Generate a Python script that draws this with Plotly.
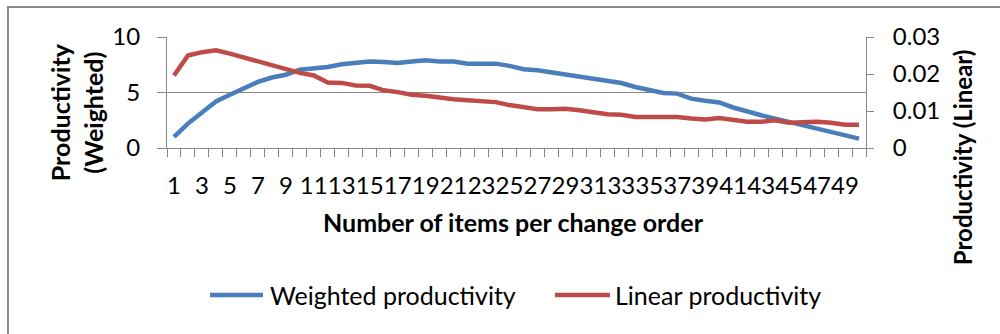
import plotly.graph_objects as go

# Number of items per change order (category axis)
items = list(range(1, 51))

# Weighted productivity (left axis)
weighted = [1.0, 2.2, 3.2, 4.2, 4.8, 5.35, 5.95, 6.35, 6.6, 7.05,
            7.15, 7.3, 7.55, 7.65, 7.8, 7.75, 7.65, 7.8, 7.9, 7.8,
            7.8, 7.6, 7.6, 7.6, 7.4, 7.1, 7.0, 6.8, 6.55, 6.4,
            6.25, 5.95, 5.85, 5.5, 5.25, 4.95, 4.9, 4.45, 4.25, 4.1,
            3.65, 3.25, 2.95, 2.65, 2.35, 2.05, 1.7, 1.4, 1.15, 0.85]

# Linear productivity (right axis)
linear = [0.0196, 0.0250, 0.0259, 0.0264, 0.0255, 0.0244, 0.0234, 0.0225, 0.0214, 0.0203,
          0.0196, 0.0177, 0.0176, 0.0169, 0.0168, 0.0156, 0.0151, 0.0144, 0.0141, 0.0135,
          0.0132, 0.0129, 0.0126, 0.0124, 0.0116, 0.0109, 0.0105, 0.0105, 0.0106, 0.0102,
          0.0095, 0.0091, 0.0090, 0.0084, 0.0084, 0.0084, 0.0084, 0.0080, 0.0077, 0.0081,
          0.0075, 0.0071, 0.0071, 0.0075, 0.0068, 0.0070, 0.0071, 0.0068, 0.0063, 0.0063]

series_names = ["Weighted productivity", "Linear productivity"]
x_tick_labels = [str(v) for v in items[::2]]

FONT = "Lato"
GREY = "#868686"
BLUE = "#4A7EBB"
RED = "#BE4B48"

fig = go.Figure()
fig.add_trace(go.Scatter(x=items, y=weighted, mode="lines", name=series_names[0],
                         line=dict(color=BLUE, width=4.5), yaxis="y"))
fig.add_trace(go.Scatter(x=items, y=linear, mode="lines", name=series_names[1],
                         line=dict(color=RED, width=4.5), yaxis="y2"))

boundaries = [v - 0.5 for v in items] + [items[-1] + 0.5]

# Legend drawn below the plot: a line sample followed by its label
legend_shapes = []
legend_notes = []
for (lx0, lx1, tx), color, name in zip([(0.0615, 0.1373, 0.1445), (0.555, 0.6338, 0.638)],
                                       [BLUE, RED], series_names):
    legend_shapes.append(dict(type="line", xref="paper", yref="paper",
                              x0=lx0, x1=lx1, y0=-1.324, y1=-1.324,
                              line=dict(color=color, width=4.5)))
    legend_notes.append(dict(text=name, xref="paper", yref="paper", x=tx, y=-1.324,
                             showarrow=False, xanchor="left", yanchor="middle",
                             font=dict(family=FONT, size=25, color="#000000")))

fig.update_layout(
    width=1000, height=334,
    margin=dict(l=167, r=134, t=37, b=186),
    paper_bgcolor="white", plot_bgcolor="white",
    font=dict(family=FONT, size=24, color="#000000"),
    showlegend=False,
    xaxis=dict(
        range=[0.5, 50.5], showgrid=False, zeroline=False,
        showline=True, linecolor=GREY, linewidth=1,
        tickmode="array", tickvals=items[::2], ticktext=x_tick_labels, tickangle=0,
        ticks="", tickfont=dict(family=FONT, size=24), ticklabelstandoff=16,
        minor=dict(tickmode="array", tickvals=boundaries, ticks="outside",
                   ticklen=8, tickcolor=GREY, tickwidth=1, showgrid=False),
    ),
    yaxis=dict(
        range=[0, 10], tickmode="array", tickvals=[0, 5, 10],
        showgrid=True, gridcolor=GREY, gridwidth=1, zeroline=False,
        showline=True, linecolor=GREY, linewidth=1,
        ticks="outside", ticklen=9, tickcolor=GREY,
        tickfont=dict(family=FONT, size=24), ticklabelstandoff=12,
    ),
    yaxis2=dict(
        range=[0, 0.03], overlaying="y", side="right",
        tickmode="array", tickvals=[0, 0.01, 0.02, 0.03], ticktext=["0", "0.01", "0.02", "0.03"],
        showgrid=False, zeroline=False,
        showline=True, linecolor=GREY, linewidth=1,
        ticks="outside", ticklen=7, tickcolor=GREY,
        tickfont=dict(family=FONT, size=24), ticklabelstandoff=14,
    ),
    annotations=[
        dict(text="<b>Number of items per change order</b>", xref="paper", yref="paper",
             x=0.496, y=-0.667, showarrow=False, xanchor="center", yanchor="middle",
             font=dict(family=FONT, size=25)),
        dict(text="<b>Productivity<br>(Weighted)</b>", xref="paper", yref="paper",
             x=-0.13, y=0.324, showarrow=False, xanchor="center", yanchor="middle",
             textangle=-90, font=dict(family=FONT, size=25)),
        dict(text="<b>Productivity (Linear)</b>", xref="paper", yref="paper",
             x=1.139, y=-0.081, showarrow=False, xanchor="center", yanchor="middle",
             textangle=-90, font=dict(family=FONT, size=24)),
    ] + legend_notes,
    shapes=[
        dict(type="rect", xref="paper", yref="paper",
             x0=-0.2275, x1=1.21, y0=-1.75, y1=1.27,
             line=dict(color="#8C8C8C", width=2), fillcolor="rgba(0,0,0,0)", layer="below"),
    ] + legend_shapes,
)

fig.write_html("out.html")
